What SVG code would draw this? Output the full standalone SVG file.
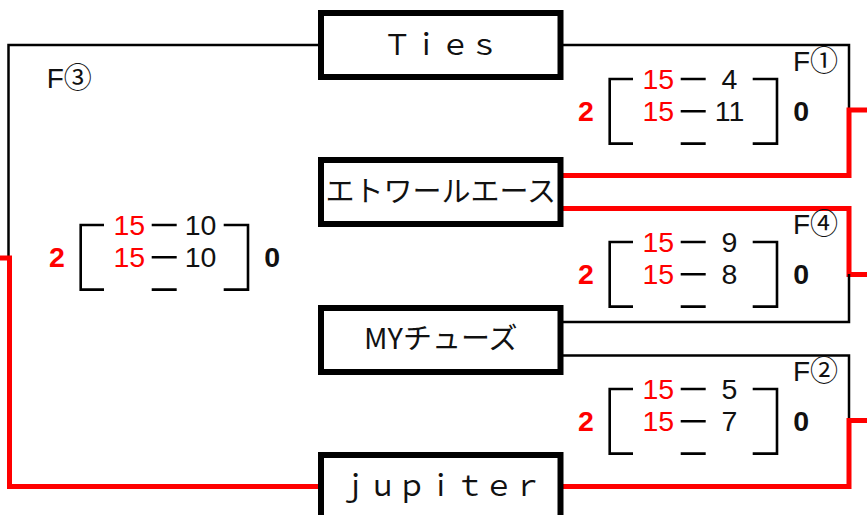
<svg xmlns="http://www.w3.org/2000/svg" width="867" height="515" viewBox="0 0 867 515">
<style>
.box{fill:#fff;stroke:#000;stroke-width:6}
.lbl{font-family:"Noto Sans CJK JP","Liberation Sans",sans-serif;font-size:29px;fill:#111;text-anchor:middle}
.blk{fill:none;stroke:#000;stroke-width:2.5}
.red{fill:none;stroke:#f00;stroke-width:5}
.brk{fill:none;stroke:#000;stroke-width:2.6}
.num{font-family:"Liberation Sans","Noto Sans CJK JP",sans-serif;font-size:28.5px;text-anchor:middle}
.r{fill:#f00}
.k{fill:#111}
.b{font-weight:bold}
.f{font-family:"Liberation Sans","Noto Sans CJK JP",sans-serif;font-size:28px;fill:#111}
</style>
<defs>
<g id="score">
<path class="brk" d="M633,0 H609.7 V64.6 H633"/>
<path class="brk" d="M752.7,0 H777 V64.6 H752.7"/>
<path class="brk" d="M680.7,0 H705.7 M680.7,32.3 H705.7 M680.7,64.6 H705.7"/>
</g>
</defs>
<g id="connectors">
<path class="blk" d="M318,45 H8.5 V257"/>
<path class="red" d="M0,258 H9.5 V486.5 H318"/>
<path class="blk" d="M563,45 H849 V110"/>
<path class="red" d="M867,110 H849 V175.5 H563"/>
<path class="red" d="M563,208.5 H849 V274.5 H867"/>
<path class="blk" d="M563,322 H849 V274"/>
<path class="blk" d="M563,355.5 H849 V420"/>
<path class="red" d="M867,420.5 H849 V486.5 H563"/>
</g>
<g id="node-ties">
<rect class="box" x="321" y="13" width="239.5" height="64"/>
<text class="lbl" x="440.7" y="55">Ｔｉｅｓ</text>
</g>
<g id="node-etoile">
<rect class="box" x="321" y="160" width="239.5" height="64"/>
<text class="lbl" x="440.7" y="202">エトワールエース</text>
</g>
<g id="node-mychoose">
<rect class="box" x="321" y="308" width="239.5" height="64"/>
<text class="lbl" x="440.7" y="349">MYチューズ</text>
</g>
<g id="node-jupiter">
<rect class="box" x="321" y="455" width="239.5" height="64"/>
<text class="lbl" x="440.7" y="496">ｊｕｐｉｔｅｒ</text>
</g>
<g id="match-f1" transform="translate(0,79)">
<use href="#score"/>
<text class="f" x="793" y="-8">F①</text>
<text class="num r b" x="586" y="42">2</text>
<text class="num r" x="658.3" y="9.8">15</text>
<text class="num k" x="729.5" y="9.8">4</text>
<text class="num r" x="658.3" y="42">15</text>
<text class="num k" x="729.5" y="42">11</text>
<text class="num k b" x="801.3" y="42">0</text>
</g>
<g id="match-f4" transform="translate(0,242)">
<use href="#score"/>
<text class="f" x="793" y="-8">F④</text>
<text class="num r b" x="586" y="42">2</text>
<text class="num r" x="658.3" y="9.8">15</text>
<text class="num k" x="729.5" y="9.8">9</text>
<text class="num r" x="658.3" y="42">15</text>
<text class="num k" x="729.5" y="42">8</text>
<text class="num k b" x="801.3" y="42">0</text>
</g>
<g id="match-f2" transform="translate(0,389)">
<use href="#score"/>
<text class="f" x="793" y="-8">F②</text>
<text class="num r b" x="586" y="42">2</text>
<text class="num r" x="658.3" y="9.8">15</text>
<text class="num k" x="729.5" y="9.8">5</text>
<text class="num r" x="658.3" y="42">15</text>
<text class="num k" x="729.5" y="42">7</text>
<text class="num k b" x="801.3" y="42">0</text>
</g>
<g id="match-f3" transform="translate(-529,225)">
<use href="#score"/>
<text class="num r b" x="586" y="42">2</text>
<text class="num r" x="658.3" y="9.8">15</text>
<text class="num k" x="729.5" y="9.8">10</text>
<text class="num r" x="658.3" y="42">15</text>
<text class="num k" x="729.5" y="42">10</text>
<text class="num k b" x="801.3" y="42">0</text>
</g>
<text class="f" x="46.7" y="88">F③</text>
</svg>
